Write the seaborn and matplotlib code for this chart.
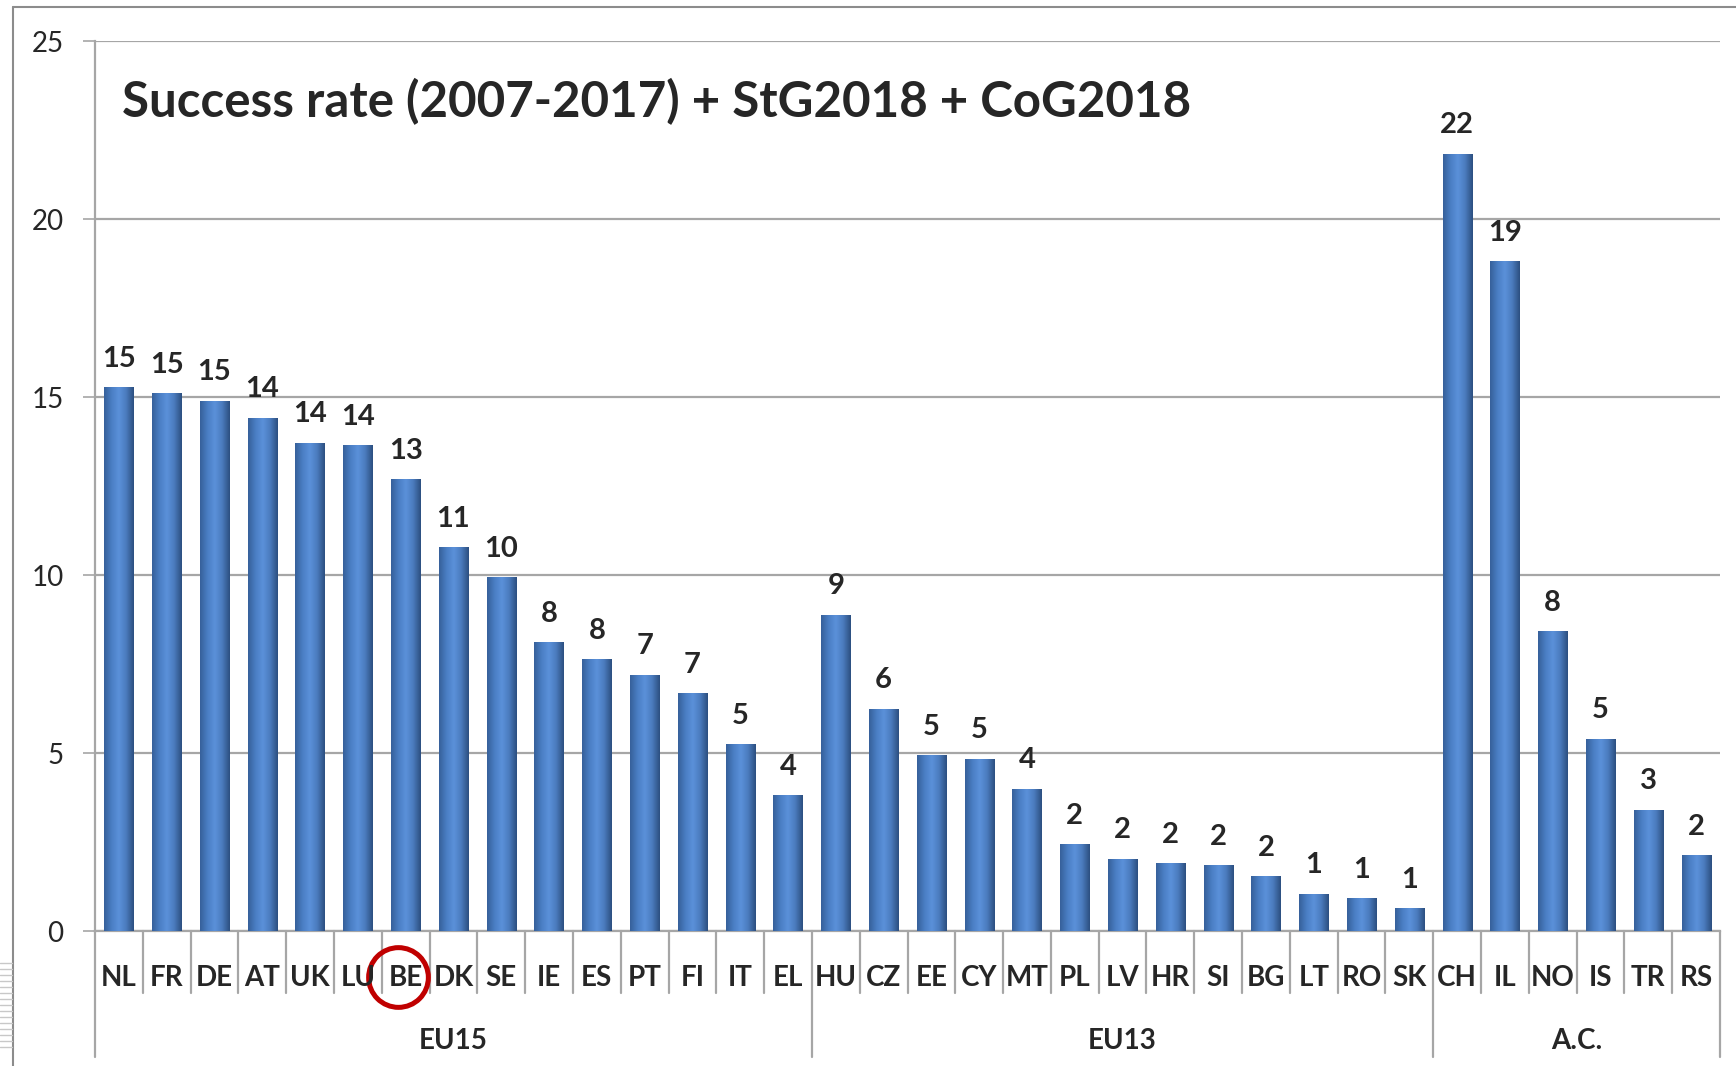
import numpy as np
import pandas as pd
import matplotlib
matplotlib.use("Agg")
import matplotlib.pyplot as plt
import seaborn as sns
from matplotlib.colors import LinearSegmentedColormap
from matplotlib.lines import Line2D

# data
eu15 = ["NL", "FR", "DE", "AT", "UK", "LU", "BE", "DK", "SE", "IE", "ES", "PT", "FI", "IT", "EL"]
eu15_rate = [15.26, 15.10, 14.88, 14.41, 13.70, 13.64, 12.67, 10.77, 9.93, 8.09, 7.63, 7.19, 6.66, 5.23, 3.80]
eu13 = ["HU", "CZ", "EE", "CY", "MT", "PL", "LV", "HR", "SI", "BG", "LT", "RO", "SK"]
eu13_rate = [8.87, 6.23, 4.92, 4.83, 3.98, 2.43, 2.02, 1.90, 1.84, 1.52, 1.03, 0.90, 0.62]
ac = ["CH", "IL", "NO", "IS", "TR", "RS"]
ac_rate = [21.82, 18.80, 8.41, 5.39, 3.39, 2.12]
group_names = ["EU15", "EU13", "A.C."]
title = "Success rate (2007-2017) + StG2018 + CoG2018"
highlight = "BE"

countries = eu15 + eu13 + ac
rates = eu15_rate + eu13_rate + ac_rate
groups = [group_names[0]] * len(eu15) + [group_names[1]] * len(eu13) + [group_names[2]] * len(ac)
df = pd.DataFrame({"country": countries, "rate": rates, "group": groups})

sns.set_style("white")
plt.rcParams['font.family'] = ['Lato', 'DejaVu Sans']

W, H = 1736, 1066
fig = plt.figure(figsize=(W / 100, H / 100), dpi=100)
ax = fig.add_axes([95 / W, 1 - 931 / H, (1720 - 95) / W, (931 - 41) / H])

sns.barplot(data=df, x="country", y="rate", color="#4f81bd", width=0.61,
            saturation=1, ax=ax, linewidth=0)

# cylinder-like horizontal gradient on each bar
cmap = LinearSegmentedColormap.from_list(
    "bar", ["#36609a", "#4a7ec4", "#5b91da", "#4a7bbd", "#2c4f80"])
grad = np.linspace(0, 1, 64).reshape(1, -1)
for p in ax.patches:
    x0, w, h = p.get_x(), p.get_width(), p.get_height()
    p.set_visible(False)
    ax.imshow(grad, cmap=cmap, extent=[x0, x0 + w, 0, h], aspect="auto",
              zorder=3, interpolation="bicubic")

n = len(countries)
ax.set_xlim(-0.5, n - 0.5)
ax.set_ylim(0, 25)
ax.set_yticks([0, 5, 10, 15, 20, 25])
ax.yaxis.grid(True, color="#a6a6a6", linewidth=1.6)
ax.set_axisbelow(True)
ax.set_xlabel("")
ax.set_ylabel("")
for s in ["top", "right"]:
    ax.spines[s].set_visible(False)
ax.spines["left"].set_color("#a6a6a6")
ax.spines["left"].set_linewidth(1.6)
ax.spines["bottom"].set_color("#a6a6a6")
ax.spines["bottom"].set_linewidth(1.6)
ax.tick_params(axis="y", length=8.6, width=1.2, color="#a6a6a6", pad=14,
               labelsize=20, left=True)
ax.tick_params(axis="x", bottom=False, labelbottom=False)

# value labels
for i, v in enumerate(rates):
    ax.annotate(f"{v:.0f}", (i, v), xytext=(0, 15), textcoords="offset points",
                ha="center", va="baseline", fontsize=21, fontweight="bold")

# category labels and separators under the axis
axh = 931 - 41
tr = ax.get_xaxis_transform()
for i, c in enumerate(countries):
    ax.text(i, -47 / axh, c, transform=tr, ha="center", va="center",
            fontsize=20, fontweight="bold")
bounds = np.cumsum([0, len(eu15), len(eu13), len(ac)]) - 0.5
for b in np.arange(-0.5, n, 1.0):
    ylow = -126 / axh if b in bounds else -62 / axh
    ax.plot([b, b], [0, ylow], transform=tr, color="#a6a6a6", lw=1.6,
            clip_on=False)
for g, lo, hi in zip(group_names, bounds[:-1], bounds[1:]):
    ax.text((lo + hi) / 2, -110 / axh, g, transform=tr, ha="center",
            va="center", fontsize=20, fontweight="bold")

# red ring around the highlighted country
hi_idx = countries.index(highlight)
ax.plot([hi_idx - 0.16], [-46 / axh], transform=tr, marker="o", ms=43,
        mfc="none", mec="#c00000", mew=3.6, clip_on=False)

ax.text(122 / W, 1 - 102 / H, title, transform=fig.transFigure, ha="left",
        va="center", fontsize=35.5, fontweight="bold")

# slide frame
fig.add_artist(Line2D([13 / W, 1], [1 - 7 / H, 1 - 7 / H], color="#8c8c8c", lw=1.5))
fig.add_artist(Line2D([13 / W, 13 / W], [0, 1 - 7 / H], color="#8c8c8c", lw=1.5))
for yy in np.arange(963, 1050, 6):
    fig.add_artist(Line2D([0, 12 / W], [1 - yy / H, 1 - yy / H], color="#c8c8c8", lw=1))

fig.savefig("out.png", dpi=100)
